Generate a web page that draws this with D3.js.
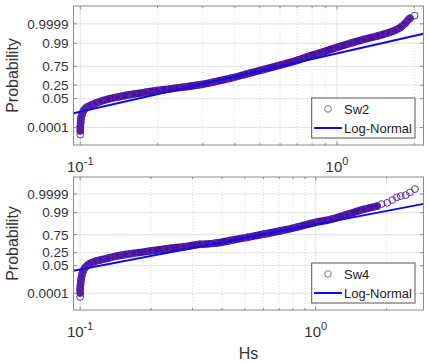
<!DOCTYPE html>
<html><head><meta charset="utf-8">
<script src="https://cdn.jsdelivr.net/npm/d3@7"></script>
<style>
html,body{margin:0;padding:0;background:#fff;}
svg{display:block;font-family:"Liberation Sans",Arial,Helvetica,sans-serif;}
</style></head><body>
<svg id="c" width="428" height="363"></svg>
<script>
// ---------- data ----------
const yTickProbs  = [0.0001, 0.05, 0.25, 0.75, 0.99, 0.9999];
const yTickLabels = ["0.0001", "0.05", "0.25", "0.75", "0.99", "0.9999"];
const xLabelBase  = ["10", "10"];
const xLabelExp   = ["-1", "0"];
const seriesNames = ["Sw2", "Sw4"];
const fitName     = "Log-Normal";
const xAxisTitle  = "Hs";
const yAxisTitle  = "Probability";
const xLimitsSw2  = [0.0941, 2.172];
const xLimitsSw4  = [0.0937, 2.868];
const zLimits     = [-4.97, 5.0];

const sw2Hs = [0.1,0.1,0.1003,0.1006,0.1012,0.1021,0.1032,0.1046,0.1065,0.1094,
  0.1144,0.1196,0.1285,0.1393,0.1497,0.1609,0.1790,0.1993,0.2240,0.2517,
  0.2877,0.3292,0.3834,0.4460,0.520,0.6056,0.6988,0.764,0.8588,1.0,
  1.1233,1.2733,1.4432,1.579,1.6825,1.7764,1.842,1.894,1.925];
const sw2P = [3.81e-5,1.22e-4,3.60e-4,9.84e-4,1.99e-3,3.85e-3,6.46e-3,9.59e-3,0.0127,0.0167,
  0.0237,0.0319,0.0463,0.0619,0.0782,0.0928,0.1162,0.1434,0.1729,0.2058,
  0.2511,0.3217,0.4247,0.5529,0.6758,0.7817,0.8646,0.9118,0.9494,0.9790,
  0.98986,0.99545,0.99787,0.99894,0.99943,0.999771,0.999913,0.999969,0.999981];
const sw2TailHs = [0.1, 2.006];
const sw2TailP  = [1.17e-5, 0.999992];

const sw4Hs = [0.1,0.1,0.1003,0.1007,0.1013,0.1023,0.1035,0.1050,0.1071,0.1102,
  0.1158,0.1216,0.1315,0.1435,0.1552,0.1683,0.1982,0.2334,0.2747,0.3228,
  0.3702,0.4327,0.5126,0.6046,0.7103,0.8326,0.9835,1.160,1.3615,1.599,1.8215];
const sw4P = [1.09e-4,3.41e-4,9.77e-4,2.57e-3,6.25e-3,0.01398,0.0242,0.0370,0.0508,0.0705,
  0.0931,0.1103,0.1412,0.1775,0.2081,0.2348,0.2908,0.3527,0.4098,0.4805,
  0.5104,0.5933,0.6830,0.7652,0.8340,0.8938,0.9417,0.9659,0.98606,0.99496,0.99760];
const sw4TailHs = [0.1,1.905,2.013,2.113,2.207,2.295,2.409,2.512,2.639];
const sw4TailP  = [3.22e-5,0.99851,0.99892,0.99946,0.999742,0.999821,0.999866,0.999940,0.999979];

const fitSw2Hs = [0.0941, 2.172], fitSw2P = [0.00359, 0.99868];
const fitSw4Hs = [0.0937, 2.868], fitSw4P = [0.0214, 0.99858];

// ---------- inverse normal ----------
function norminv(p){
  const a=[-3.969683028665376e+01,2.209460984245205e+02,-2.759285104469687e+02,1.383577518672690e+02,-3.066479806614716e+01,2.506628277459239e+00];
  const b=[-5.447609879822406e+01,1.615858368580409e+02,-1.556989798598866e+02,6.680131188771972e+01,-1.328068155288572e+01];
  const c=[-7.784894002430293e-03,-3.223964580411365e-01,-2.400758277161838e+00,-2.549732539343734e+00,4.374664141464968e+00,2.938163982698783e+00];
  const d=[7.784695709041462e-03,3.224671290700398e-01,2.445134137142996e+00,3.754408661907416e+00];
  const pl=0.02425, ph=1-pl; let q,r;
  if(p<pl){q=Math.sqrt(-2*Math.log(p));return (((((c[0]*q+c[1])*q+c[2])*q+c[3])*q+c[4])*q+c[5])/((((d[0]*q+d[1])*q+d[2])*q+d[3])*q+1);}
  if(p>ph){q=Math.sqrt(-2*Math.log(1-p));return -(((((c[0]*q+c[1])*q+c[2])*q+c[3])*q+c[4])*q+c[5])/((((d[0]*q+d[1])*q+d[2])*q+d[3])*q+1);}
  q=p-0.5;r=q*q;return (((((a[0]*r+a[1])*r+a[2])*r+a[3])*r+a[4])*r+a[5])*q/(((((b[0]*r+b[1])*r+b[2])*r+b[3])*r+b[4])*r+1);
}

const svg = d3.select("#c");
const L = 73.5, R = 423.5;
const panels = [
  {top:6, bottom:145, xlim:xLimitsSw2, hs:sw2Hs, p:sw2P, tHs:sw2TailHs, tP:sw2TailP, fHs:fitSw2Hs, fP:fitSw2P, name:seriesNames[0], id:"a"},
  {top:177, bottom:310, xlim:xLimitsSw4, hs:sw4Hs, p:sw4P, tHs:sw4TailHs, tP:sw4TailP, fHs:fitSw4Hs, fP:fitSw4P, name:seriesNames[1], id:"b"}
];
const axisCol = "#8a8a8a", gridCol = "#e2e2e2", textCol = "#333";
const bandCol = "#4a12a0", circCol = "#5e2cae", fitCol = "#0b0bee";

panels.forEach(pn => {
  const x = d3.scaleLog().domain(pn.xlim).range([L, R]);
  const y = d3.scaleLinear().domain(zLimits).range([pn.bottom, pn.top]);
  const g = svg.append("g");
  const clipId = "clip" + pn.id;
  svg.append("clipPath").attr("id", clipId).append("rect")
    .attr("x", L).attr("y", pn.top).attr("width", R - L).attr("height", pn.bottom - pn.top);

  const xt = x.ticks();
  const isMajor = v => Math.abs(Math.log10(v) - Math.round(Math.log10(v))) < 1e-9;

  // grid
  g.selectAll(".yg").data(yTickProbs).enter().append("line")
    .attr("x1", L).attr("x2", R)
    .attr("y1", d => y(norminv(d))).attr("y2", d => y(norminv(d)))
    .attr("stroke", gridCol).attr("stroke-width", 1);
  g.selectAll(".xg").data(xt).enter().append("line")
    .attr("x1", d => x(d)).attr("x2", d => x(d))
    .attr("y1", pn.top).attr("y2", pn.bottom)
    .attr("stroke", d => isMajor(d) ? gridCol : "#d6d6d6")
    .attr("stroke-width", 1)
    .attr("stroke-dasharray", d => isMajor(d) ? null : "1,2");

  const pg = g.append("g").attr("clip-path", `url(#${clipId})`);
  // dense band of overlapping markers
  const body = pn.hs.map((h, i) => [h, pn.p[i]]);
  const tail = pn.tHs.map((h, i) => [h, pn.tP[i]]);
  const ln = d3.line().x(d => x(d[0])).y(d => y(norminv(d[1]))).curve(d3.curveCatmullRom);
  pg.append("path").datum(body).attr("d", ln)
    .attr("fill", "none").attr("stroke", bandCol).attr("stroke-width", 7.5)
    .attr("stroke-linecap", "round").attr("stroke-linejoin", "round");
  pg.selectAll(".pt").data(body.concat(tail)).enter().append("circle")
    .attr("cx", d => x(d[0])).attr("cy", d => y(norminv(d[1]))).attr("r", 3.4)
    .attr("fill", "none").attr("stroke", circCol).attr("stroke-width", 1);
  // fit line
  const fit = pn.fHs.map((h, i) => [h, pn.fP[i]]);
  pg.append("path").datum(fit).attr("d", d3.line().x(d => x(d[0])).y(d => y(norminv(d[1]))))
    .attr("fill", "none").attr("stroke", fitCol).attr("stroke-width", 2);

  // box
  g.append("rect").attr("x", L).attr("y", pn.top).attr("width", R - L).attr("height", pn.bottom - pn.top)
    .attr("fill", "none").attr("stroke", axisCol).attr("stroke-width", 1);
  // ticks
  g.selectAll(".xtk").data(xt).enter().append("path")
    .attr("d", d => { const xx = x(d), len = isMajor(d) ? 3.5 : 2;
      return `M${xx},${pn.bottom}V${pn.bottom - len}M${xx},${pn.top}V${pn.top + len}`; })
    .attr("stroke", axisCol).attr("stroke-width", 1);
  g.selectAll(".ytk").data(yTickProbs).enter().append("path")
    .attr("d", d => { const yy = y(norminv(d)); return `M${L},${yy}H${L + 3.5}M${R},${yy}H${R - 3.5}`; })
    .attr("stroke", axisCol).attr("stroke-width", 1);

  // y tick labels
  g.selectAll(".ytl").data(yTickProbs).enter().append("text")
    .attr("x", L - 5).attr("y", d => y(norminv(d)) + 4.8)
    .attr("text-anchor", "end").attr("font-size", 13.5).attr("fill", textCol)
    .text((d, i) => yTickLabels[i]);

  // x tick labels (10^k)
  const majors = xt.filter(isMajor);
  majors.forEach((v, i) => {
    const t = g.append("text").attr("x", x(v)).attr("y", pn.bottom + 26.5)
      .attr("text-anchor", "middle").attr("fill", textCol);
    t.append("tspan").attr("font-size", 15).text(xLabelBase[i]);
    t.append("tspan").attr("font-size", 11).attr("dy", -7).text(xLabelExp[i]);
  });

  // y axis title
  g.append("text").attr("transform", `translate(18,${(pn.top + pn.bottom) / 2}) rotate(-90)`)
    .attr("text-anchor", "middle").attr("font-size", 16).attr("fill", textCol).text(yAxisTitle);

  // legend
  const lt = pn.bottom - 47, lx = 311.7;
  const lg = g.append("g");
  lg.append("rect").attr("x", lx).attr("y", lt).attr("width", 103.3).attr("height", 40)
    .attr("fill", "#fff").attr("stroke", "#555").attr("stroke-width", 1);
  lg.append("circle").attr("cx", 328).attr("cy", lt + 11).attr("r", 3.3)
    .attr("fill", "none").attr("stroke", "#8a6cc4").attr("stroke-width", 1);
  lg.append("text").attr("x", 344).attr("y", lt + 15.5).attr("font-size", 13).attr("fill", "#222").text(pn.name);
  lg.append("line").attr("x1", 314).attr("x2", 342).attr("y1", lt + 30).attr("y2", lt + 30)
    .attr("stroke", fitCol).attr("stroke-width", 2);
  lg.append("text").attr("x", 344).attr("y", lt + 34.5).attr("font-size", 13).attr("fill", "#222").text(fitName);
});

svg.append("text").attr("x", (L + R) / 2).attr("y", 359).attr("text-anchor", "middle")
  .attr("font-size", 16).attr("fill", textCol).text(xAxisTitle);
</script>
</body></html>
